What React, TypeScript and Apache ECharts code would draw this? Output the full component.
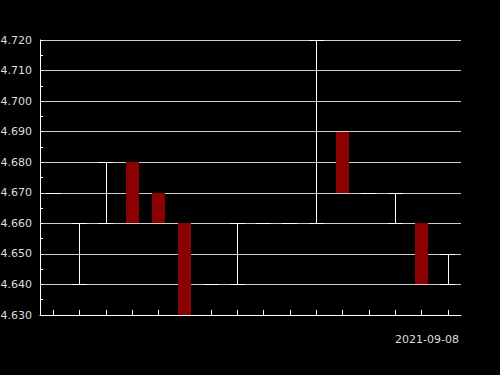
import React, { useEffect, useRef } from "react";
import * as echarts from "echarts";

const categories = ["1", "2", "3", "4", "5", "6", "7", "8", "9", "10", "11", "12", "13", "14", "15", "16"];
const openValues = [4.67, 4.64, 4.66, 4.68, 4.67, 4.66, 4.64, 4.64, 4.66, 4.66, 4.66, 4.69, 4.67, 4.66, 4.66, 4.64];
const closeValues = [4.67, 4.66, 4.68, 4.66, 4.66, 4.63, 4.64, 4.66, 4.66, 4.66, 4.72, 4.67, 4.67, 4.67, 4.64, 4.65];
const lowValues = [4.67, 4.64, 4.66, 4.66, 4.66, 4.63, 4.64, 4.64, 4.66, 4.66, 4.66, 4.67, 4.67, 4.66, 4.64, 4.64];
const highValues = [4.67, 4.66, 4.68, 4.68, 4.67, 4.66, 4.64, 4.66, 4.66, 4.66, 4.72, 4.69, 4.67, 4.67, 4.66, 4.65];
const dateLabel = "2021-09-08";

const UP = "#ffffff";
const DOWN = "#8b0000";

function crisp(p: number) {
  const d = Math.round(p * 2);
  return d % 2 !== 0 ? d / 2 : (d + 1) / 2;
}

export default function App() {
  const ref = useRef<HTMLDivElement>(null);
  useEffect(() => {
    if (!ref.current) return;
    const chart = echarts.init(ref.current, null, { renderer: "svg" });
    const data = categories.map((_, i) => [i, openValues[i], closeValues[i], lowValues[i], highValues[i]]);
    chart.setOption({
      animation: false,
      backgroundColor: "#000000",
      grid: { left: 40, right: 39, top: 40, bottom: 60, containLabel: false, outerBoundsMode: "none" },
      xAxis: {
        type: "category",
        data: categories,
        boundaryGap: true,
        axisLine: { lineStyle: { color: "#ffffff", width: 1 } },
        axisTick: { show: true, inside: true, alignWithLabel: true, length: 5, interval: 0, lineStyle: { color: "#ffffff" } },
        axisLabel: { show: false },
        splitLine: { show: false },
      },
      yAxis: {
        type: "value",
        min: 4.63,
        max: 4.72,
        interval: 0.01,
        axisLine: { show: true, lineStyle: { color: "#ffffff" } },
        axisTick: { show: true, inside: true, length: 3, lineStyle: { color: "#ffffff" } },
        minorTick: { show: true, splitNumber: 2, length: 3, lineStyle: { color: "#ffffff" } },
        axisLabel: {
          color: "#dddddd",
          fontSize: 11,
          fontFamily: "DejaVu Sans",
          margin: 8,
          formatter: (v: number) => v.toFixed(3),
        },
        splitLine: { show: true, lineStyle: { color: "#cccccc", width: 1 } },
      },
      graphic: [
        {
          type: "text",
          right: 41,
          top: 334,
          style: { text: dateLabel, fill: "#dddddd", fontSize: 11, fontFamily: "DejaVu Sans" },
        },
      ],
      series: [
        {
          type: "custom",
          data,
          encode: { x: 0, y: [1, 2, 3, 4] },
          renderItem: (params: any, api: any) => {
            const idx = api.value(0);
            const o = api.value(1);
            const c = api.value(2);
            const l = api.value(3);
            const h = api.value(4);
            const pO = api.coord([idx, o]);
            const pC = api.coord([idx, c]);
            const pL = api.coord([idx, l]);
            const pH = api.coord([idx, h]);
            const cx = crisp(pO[0]);
            if (c < o) {
              const bw = 13;
              return {
                type: "rect",
                shape: { x: Math.round(pO[0] - bw / 2), y: Math.round(pO[1]), width: bw, height: Math.round(pC[1]) - Math.round(pO[1]) },
                style: { fill: DOWN },
              };
            }
            const cw = 15;
            const children: any[] = [];
            if (pL[1] !== pH[1]) {
              children.push({
                type: "line",
                shape: { x1: cx, y1: crisp(pL[1]), x2: cx, y2: crisp(pH[1]) },
                style: { stroke: UP, lineWidth: 1 },
              });
            }
            children.push({
              type: "line",
              shape: { x1: Math.round(pO[0] - cw / 2), y1: crisp(pO[1]), x2: Math.round(pO[0] + cw / 2), y2: crisp(pO[1]) },
              style: { stroke: UP, lineWidth: 1 },
            });
            children.push({
              type: "line",
              shape: { x1: Math.round(pC[0] - cw / 2), y1: crisp(pC[1]), x2: Math.round(pC[0] + cw / 2), y2: crisp(pC[1]) },
              style: { stroke: UP, lineWidth: 1 },
            });
            return { type: "group", children };
          },
        },
      ],
    });
    return () => chart.dispose();
  }, []);
  return <div ref={ref} style={{ width: 500, height: 375, position: "absolute", left: 0, top: 0 }} />;
}
